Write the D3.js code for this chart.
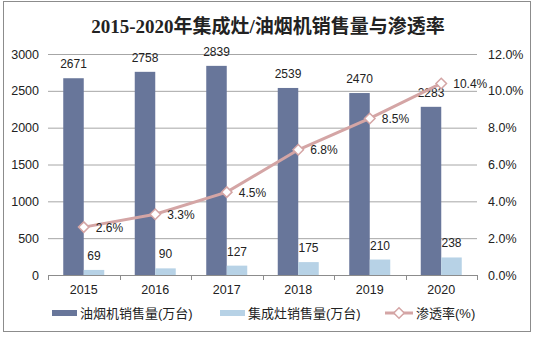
<!DOCTYPE html>
<html>
<head>
<meta charset="utf-8">
<script src="https://cdn.jsdelivr.net/npm/d3@7"></script>
<style>
  html, body { margin: 0; padding: 0; background: #fff; }
  svg text { font-family: "Liberation Sans", Arial, "Noto Sans CJK SC", sans-serif; fill: #222; }
  .title { font-family: "Liberation Serif", "Noto Sans CJK SC", serif; font-weight: bold; font-size: 19px; }
  .axis path, .axis line { stroke: #8c8c8c; }
  .grid line { stroke: #a6a6a6; }
  .grid path { display: none; }
</style>
</head>
<body>
<div id="chart"></div>
<script>
// annual sales (10k units) and penetration rate
const years = ["2015", "2016", "2017", "2018", "2019", "2020"];
const hoodSales = [2671, 2758, 2839, 2539, 2470, 2283];
const stoveSales = [69, 90, 127, 175, 210, 238];
const penetration = [2.6, 3.3, 4.5, 6.8, 8.5, 10.4];
const leftTicks = [0, 500, 1000, 1500, 2000, 2500, 3000];
const rightTicks = [0, 2, 4, 6, 8, 10, 12];

const width = 536, height = 338;
const margin = {top: 54, right: 59, bottom: 63, left: 48};
const innerW = width - margin.left - margin.right;
const innerH = height - margin.top - margin.bottom;

const colors = {hood: "#68769a", stove: "#b7d2e6", line: "#d4a5a5"};

const svg = d3.select("#chart").append("svg")
  .attr("width", width).attr("height", height);

// outer frame
svg.append("rect")
  .attr("x", 3.5).attr("y", 1.5).attr("width", 527).attr("height", 330)
  .attr("fill", "none").attr("stroke", "#8c8c8c");

svg.append("text").attr("class", "title")
  .attr("x", 268).attr("y", 33).attr("text-anchor", "middle")
  .text("2015-2020年集成灶/油烟机销售量与渗透率");

const g = svg.append("g").attr("transform", `translate(${margin.left},${margin.top})`);

const x = d3.scaleBand().domain(years).range([0, innerW]);
const y = d3.scaleLinear().domain([0, 3000]).range([innerH, 0]);
const y2 = d3.scaleLinear().domain([0, 12]).range([innerH, 0]);
const barW = 20.5;

// horizontal grid
g.append("g").attr("class", "grid")
  .call(d3.axisLeft(y).tickValues(leftTicks.slice(1)).tickSize(-innerW).tickFormat(""));

// left axis labels
g.append("g").selectAll("text").data(leftTicks).join("text")
  .attr("x", -9).attr("y", d => y(d) + 4.5)
  .attr("text-anchor", "end").attr("font-size", 12.5)
  .text(d => d);

// right axis labels
g.append("g").selectAll("text").data(rightTicks).join("text")
  .attr("x", innerW + 11).attr("y", d => y2(d) + 4.5)
  .attr("font-size", 12.5)
  .text(d => d.toFixed(1) + "%");

// bars
g.selectAll(".hood").data(years).join("rect").attr("class", "hood")
  .attr("x", d => x(d) + x.bandwidth() / 2 - barW)
  .attr("y", (d, i) => y(hoodSales[i]))
  .attr("width", barW)
  .attr("height", (d, i) => innerH - y(hoodSales[i]))
  .attr("fill", colors.hood);

g.selectAll(".stove").data(years).join("rect").attr("class", "stove")
  .attr("x", d => x(d) + x.bandwidth() / 2)
  .attr("y", (d, i) => y(stoveSales[i]))
  .attr("width", barW)
  .attr("height", (d, i) => innerH - y(stoveSales[i]))
  .attr("fill", colors.stove);

// bottom axis with ticks at category boundaries
const xAxis = g.append("g").attr("class", "axis").attr("transform", `translate(0,${innerH})`);
xAxis.append("line").attr("x1", 0).attr("x2", innerW).attr("y1", 0.5).attr("y2", 0.5);
xAxis.selectAll(".tk").data(d3.range(years.length + 1)).join("line").attr("class", "tk")
  .attr("x1", i => Math.round(i * x.step()) + 0.5).attr("x2", i => Math.round(i * x.step()) + 0.5)
  .attr("y1", 0).attr("y2", 5);
xAxis.selectAll("text").data(years).join("text")
  .attr("x", d => x(d) + x.bandwidth() / 2).attr("y", 19)
  .attr("text-anchor", "middle").attr("font-size", 12.5)
  .text(d => d);

// bar value labels
g.selectAll(".hoodLbl").data(years).join("text").attr("class", "hoodLbl")
  .attr("x", d => x(d) + x.bandwidth() / 2 - barW / 2)
  .attr("y", (d, i) => y(hoodSales[i]) - 10)
  .attr("text-anchor", "middle").attr("font-size", 12)
  .text((d, i) => hoodSales[i]);

g.selectAll(".stoveLbl").data(years).join("text").attr("class", "stoveLbl")
  .attr("x", d => x(d) + x.bandwidth() / 2 + barW / 2)
  .attr("y", (d, i) => y(stoveSales[i]) - 10)
  .attr("text-anchor", "middle").attr("font-size", 12)
  .text((d, i) => stoveSales[i]);

// penetration line
const cx = d => x(d) + x.bandwidth() / 2;
const line = d3.line().x(d => cx(d)).y((d, i) => y2(penetration[i]));
g.append("path").datum(years).attr("d", line)
  .attr("fill", "none").attr("stroke", colors.line).attr("stroke-width", 3);

const diamond = d3.symbol().type(d3.symbolDiamond2).size(70);
g.selectAll(".mk").data(years).join("path").attr("class", "mk")
  .attr("d", diamond)
  .attr("transform", (d, i) => `translate(${cx(d)},${y2(penetration[i])})`)
  .attr("fill", "#fff").attr("stroke", colors.line).attr("stroke-width", 1.5);

g.selectAll(".pctLbl").data(years).join("text").attr("class", "pctLbl")
  .attr("x", d => cx(d) + 12)
  .attr("y", (d, i) => y2(penetration[i]) + 4.5)
  .attr("font-size", 12)
  .text((d, i) => penetration[i].toFixed(1) + "%");

// legend
const lg = svg.append("g").attr("transform", "translate(0,313)");
lg.append("rect").attr("x", 52).attr("y", -3).attr("width", 25).attr("height", 6).attr("fill", colors.hood);
lg.append("text").attr("x", 80).attr("y", 5).attr("font-size", 13).text("油烟机销售量(万台)");
lg.append("rect").attr("x", 220).attr("y", -3).attr("width", 25).attr("height", 6).attr("fill", colors.stove);
lg.append("text").attr("x", 248).attr("y", 5).attr("font-size", 13).text("集成灶销售量(万台)");
lg.append("line").attr("x1", 385).attr("x2", 413).attr("y1", 0).attr("y2", 0)
  .attr("stroke", colors.line).attr("stroke-width", 3);
lg.append("path").attr("d", diamond).attr("transform", "translate(399,0)")
  .attr("fill", "#fff").attr("stroke", colors.line).attr("stroke-width", 1.5);
lg.append("text").attr("x", 416).attr("y", 5).attr("font-size", 13).text("渗透率(%)");
</script>
</body>
</html>
